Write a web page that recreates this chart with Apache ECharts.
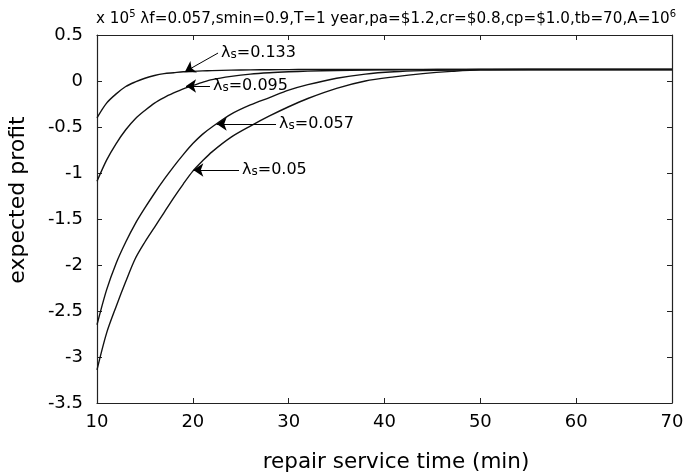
<!DOCTYPE html>
<html>
<head>
<meta charset="utf-8">
<script src="https://cdn.jsdelivr.net/npm/echarts@6/dist/echarts.min.js"></script>
<style>html,body{margin:0;padding:0;background:#fff}#main{width:686px;height:475px}</style>
</head>
<body>
<div id="main"></div>
<script>
// repair service time (min)
var repairTime = [10,11,12,13,14,15,16,17,18,19,20,21,22,24,26,28,30,32,35,38,41,44,47,50,55,60,65,70];
// expected profit (x 10^5) for each λs
var profit133 = [-0.40,-0.24,-0.14,-0.06,-0.01,0.03,0.06,0.08,0.09,0.10,0.105,0.11,0.113,
  0.118,0.121,0.123,0.124,0.125,0.125,0.125,0.125,0.125,0.125,0.125,0.125,0.125,0.125,0.125];
var profit095 = [-1.09,-0.86,-0.68,-0.53,-0.41,-0.32,-0.24,-0.18,-0.13,-0.085,-0.05,-0.015,0.015,
  0.05,0.075,0.09,0.10,0.107,0.114,0.119,0.122,0.124,0.125,0.125,0.125,0.125,0.125,0.125];
var profit057 = [-2.65,-2.27,-1.98,-1.75,-1.55,-1.38,-1.22,-1.07,-0.93,-0.80,-0.68,-0.58,-0.50,
  -0.36,-0.26,-0.18,-0.10,-0.04,0.03,0.075,0.10,0.113,0.12,0.125,0.125,0.125,0.125,0.125];
var profit05 = [-3.14,-2.74,-2.45,-2.18,-1.93,-1.75,-1.59,-1.43,-1.27,-1.12,-0.98,-0.87,-0.77,
  -0.61,-0.49,-0.38,-0.28,-0.19,-0.08,0.0,0.045,0.08,0.105,0.122,0.125,0.125,0.125,0.125];
var lambdaS = ['0.133','0.095','0.057','0.05'];
// arrow: text end -> point on curve (data coords)
var arrows = [
  [[22.63, 0.304], [19.18, 0.101]],
  [[21.79, -0.054], [19.29, -0.054]],
  [[28.68, -0.467], [22.49, -0.467]],
  [[24.82, -0.967], [20.05, -0.967]]
];
var allProfit = [profit133, profit095, profit057, profit05];

var FONT = 'DejaVu Sans';
var chart = echarts.init(document.getElementById('main'));

function pairs(ys) {
  return repairTime.map(function (x, i) { return [x, ys[i]]; });
}

var series = allProfit.map(function (ys, k) {
  return {
    type: 'line',
    data: pairs(ys),
    showSymbol: false,
    silent: true,
    smooth: 0.3,
    lineStyle: { color: '#111', width: 1.4 },
    markLine: {
      silent: true,
      symbol: ['none', 'arrow'],
      symbolSize: 10,
      lineStyle: { color: '#000', width: 1, type: 'solid' },
      label: { show: false },
      data: [[{ coord: arrows[k][0] }, { coord: arrows[k][1] }]]
    },
    markPoint: {
      silent: true,
      symbol: 'circle',
      symbolSize: 0,
      data: [{ coord: arrows[k][0] }],
      label: {
        show: true,
        position: 'right',
        distance: 3,
        formatter: '{l|λ}{s|s}{v|=' + lambdaS[k] + '}',
        rich: {
          l: { fontFamily: FONT, fontSize: 16, color: '#000' },
          s: { fontFamily: FONT, fontSize: 12, color: '#000', verticalAlign: 'bottom' },
          v: { fontFamily: FONT, fontSize: 16, color: '#000' }
        }
      }
    }
  };
});

var axisCommon = {
  axisLine: { show: true, onZero: false, lineStyle: { color: '#222', width: 1.2 } },
  axisTick: { show: true, inside: true, length: 5, lineStyle: { color: '#222' } },
  splitLine: { show: false }
};

chart.setOption({
  animation: false,
  backgroundColor: '#fff',
  title: {
    text: '{a|x 10}{sup|5}{a| λf=0.057,smin=0.9,T=1 year,pa=$1.2,cr=$0.8,cp=$1.0,tb=70,A=10}{sup|6}',
    left: 96,
    top: 9,
    padding: 0,
    textStyle: {
      fontWeight: 'normal',
      rich: {
        a: { fontFamily: FONT, fontSize: 15.2, fontWeight: 'normal', color: '#000', lineHeight: 18, verticalAlign: 'bottom' },
        sup: { fontFamily: FONT, fontSize: 10, fontWeight: 'normal', color: '#000', lineHeight: 18, verticalAlign: 'top' }
      }
    }
  },
  grid: { left: 97, right: 14, top: 35, bottom: 72, outerBoundsMode: 'none' },
  xAxis: [
    Object.assign({
      type: 'value', min: 10, max: 70, interval: 10, position: 'bottom',
      axisLabel: { fontFamily: FONT, fontSize: 18, color: '#000', margin: 10 }
    }, axisCommon),
    Object.assign({
      type: 'value', min: 10, max: 70, interval: 10, position: 'top',
      axisLabel: { show: false }
    }, axisCommon)
  ],
  yAxis: [
    Object.assign({
      type: 'value', min: -3.5, max: 0.5, interval: 0.5, position: 'left',
      axisLabel: { fontFamily: FONT, fontSize: 18, color: '#000', margin: 14 }
    }, axisCommon),
    Object.assign({
      type: 'value', min: -3.5, max: 0.5, interval: 0.5, position: 'right',
      axisLabel: { show: false }
    }, axisCommon)
  ],
  graphic: [
    {
      type: 'text', x: 396, y: 462,
      style: { text: 'repair service time (min)', fontFamily: FONT, fontSize: 21.5, fill: '#000', align: 'center', verticalAlign: 'middle' }
    },
    {
      type: 'text', x: 18, y: 200, rotation: Math.PI / 2,
      style: { text: 'expected profit', fontFamily: FONT, fontSize: 22, fill: '#000', align: 'center', verticalAlign: 'middle' }
    }
  ],
  series: series
});
</script>
</body>
</html>
